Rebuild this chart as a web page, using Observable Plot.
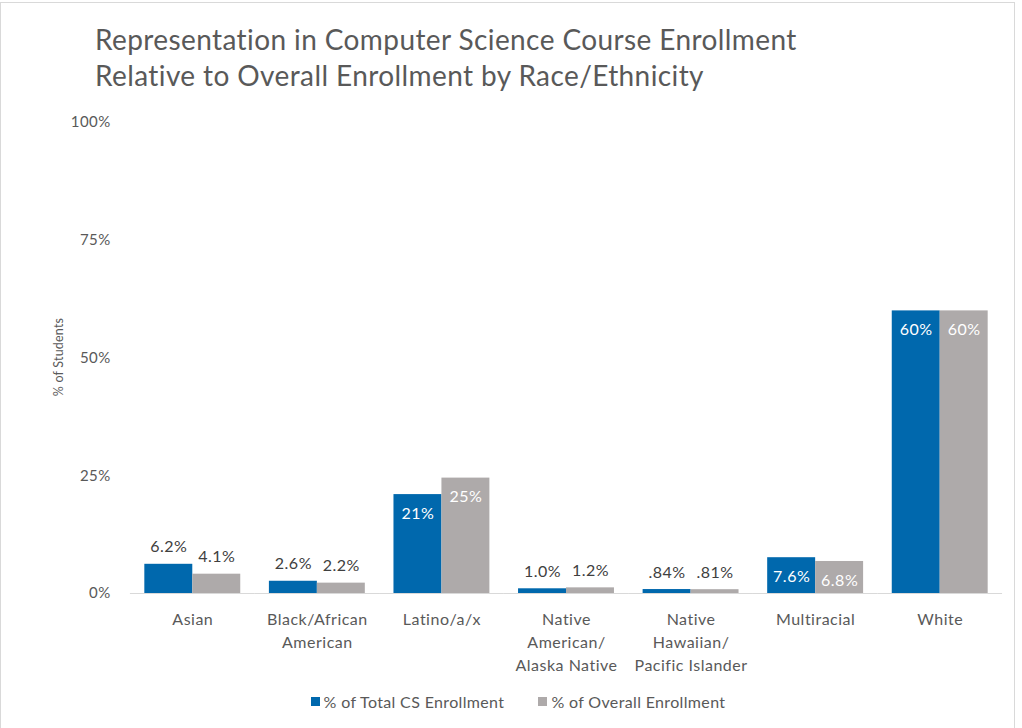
<!DOCTYPE html>
<html>
<head>
<meta charset="utf-8">
<script src="https://cdn.jsdelivr.net/npm/d3@7"></script>
<script src="https://cdn.jsdelivr.net/npm/@observablehq/plot@0.6"></script>
<style>
  html, body { margin: 0; padding: 0; background: #fff; }
  body { width: 1022px; height: 728px; position: relative; overflow: hidden; font-family: Lato, "Open Sans", sans-serif; color: #595959; }
  #frame { position: absolute; left: 0; top: 2px; width: 1015px; height: 740px; border: 1px solid #d9d9d9; box-sizing: border-box; }
  #title { position: absolute; left: 95px; top: 21px; font-size: 28px; letter-spacing: 0.4px; line-height: 36px; color: #595959; }
  #ylabel { position: absolute; left: 58px; top: 357px; font-size: 12.5px; letter-spacing: 0.2px; transform: translate(-50%, -50%) rotate(-90deg); white-space: nowrap; color: #595959; }
  #chart { position: absolute; left: 0; top: 105px; }
  #chart svg text { letter-spacing: 0.5px; }
  #legend { position: absolute; top: 690px; left: 7px; width: 1022px; text-align: center; font-size: 16px; letter-spacing: 0.35px; color: #595959; }
  #legend span.item { display: inline-flex; align-items: center; margin: 0 17px; }
  #legend span.sw { display: inline-block; width: 9px; height: 9px; margin-right: 4px; }
</style>
</head>
<body>
<div id="frame"></div>
<div id="title">Representation in Computer Science Course Enrollment<br>Relative to Overall Enrollment by Race/Ethnicity</div>
<div id="ylabel">% of Students</div>
<div id="chart"></div>
<div id="legend"></div>
<script>
const categories = ["Asian", "Black/African\nAmerican", "Latino/a/x", "Native\nAmerican/\nAlaska Native", "Native\nHawaiian/\nPacific Islander", "Multiracial", "White"];
const seriesNames = ["% of Total CS Enrollment", "% of Overall Enrollment"];
const csValues = [6.2, 2.6, 21, 1.0, 0.84, 7.6, 60];
const overallValues = [4.1, 2.2, 24.5, 1.2, 0.81, 6.8, 60];
const csLabels = ["6.2%", "2.6%", "21%", "1.0%", ".84%", "7.6%", "60%"];
const overallLabels = ["4.1%", "2.2%", "25%", "1.2%", ".81%", "6.8%", "60%"];
const yTicks = [0, 25, 50, 75, 100];
const colors = ["#0068AD", "#AEAAAA"];

const rows = categories.flatMap((c, i) => {
  const inside = Math.max(csValues[i], overallValues[i]) >= 7;
  return [
    {cat: c, series: seriesNames[0], value: csValues[i], label: csLabels[i], inside},
    {cat: c, series: seriesNames[1], value: overallValues[i], label: overallLabels[i], inside}
  ];
});

const font = "Lato, 'Open Sans', sans-serif";
const chart = Plot.plot({
  width: 1022,
  height: 580,
  marginTop: 17,
  marginBottom: 92,
  marginLeft: 130,
  marginRight: 20,
  style: {fontFamily: font, color: "#595959", background: "transparent"},
  fx: {domain: categories, paddingInner: 0.23, paddingOuter: 0.115, round: false, label: null},
  x: {domain: seriesNames, padding: 0, round: false, axis: null},
  y: {domain: [0, 100], label: null},
  color: {domain: seriesNames, range: colors},
  marks: [
    Plot.axisY({ticks: yTicks, tickFormat: d => d + "%", tickSize: 0, tickPadding: 34, fontSize: 15, label: null, fill: "#595959"}),
    Plot.axisFx({anchor: "bottom", tickSize: 0, tickPadding: 15, fontSize: 16, lineHeight: 1.44, label: null, fill: "#595959", lineAnchor: "top"}),
    Plot.barY(rows, {fx: "cat", x: "series", y: "value", fill: "series"}),
    Plot.ruleY([0], {stroke: "#d9d9d9", strokeWidth: 1, insetLeft: -14.4, insetRight: -14.4}),
    Plot.text(rows.filter(d => !d.inside), {fx: "cat", x: "series", y: "value", text: "label", dy: -17, fontSize: 16, fill: "#404040"}),
    Plot.text(rows.filter(d => d.inside), {fx: "cat", x: "series", y: "value", text: "label", dy: 19, fontSize: 16, fill: "#ffffff"})
  ]
});
document.getElementById("chart").appendChild(chart);

const legend = document.getElementById("legend");
seriesNames.forEach((s, i) => {
  const item = document.createElement("span");
  item.className = "item";
  const sw = document.createElement("span");
  sw.className = "sw";
  sw.style.background = colors[i];
  item.appendChild(sw);
  item.appendChild(document.createTextNode(s));
  legend.appendChild(item);
});
</script>
</body>
</html>
